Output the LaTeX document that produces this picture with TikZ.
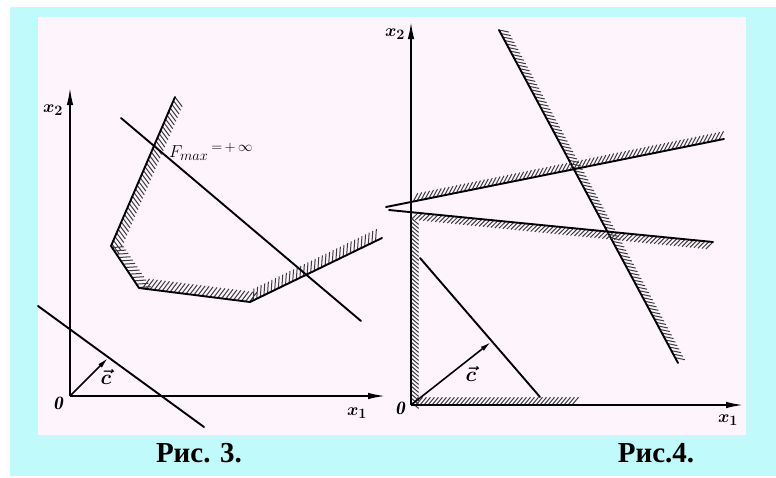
\documentclass[tikz,border=0pt]{standalone}
\usepackage{fontspec}
\newfontfamily\capfont{Liberation Serif}
\usetikzlibrary{arrows.meta,decorations.pathreplacing}
\definecolor{cyanbg}{RGB}{192,250,250}
\definecolor{paper}{RGB}{253,244,252}
\definecolor{hatchc}{RGB}{60,60,60}
\begin{document}
\begin{tikzpicture}[x=1pt,y=-1pt,
  bold/.style={line width=1.9pt,line cap=round},
  axis/.style={line width=1.6pt,-{Latex[length=17pt,width=6.5pt]}},
  vec/.style={line width=1.6pt,-{Latex[length=11pt,width=5pt]}},
  hatch/.style={decorate,decoration={border,segment length=4pt,amplitude=12pt,angle=60},line width=1pt,draw=hatchc},
  hatchs/.style={decorate,decoration={border,segment length=4pt,amplitude=10pt,angle=50},line width=1pt,draw=hatchc},
  lbl/.style={font=\boldmath\fontsize{19}{19}\selectfont,inner sep=0pt},
  caption/.style={font=\capfont\bfseries\fontsize{29}{29}\selectfont,inner sep=0pt}]
\useasboundingbox (0,0) rectangle (776,477);
\fill[white] (0,0) rectangle (776,477);
\fill[cyanbg] (10,7) rectangle (776,476);
\fill[paper] (38,17) rectangle (746,435);

% ---------- Fig. 3 ----------
\coordinate (O3) at (70,396);
\coordinate (Y3) at (70,88);
\coordinate (X3) at (385,396);
\draw[axis] (O3) -- (Y3);
\draw[axis] (O3) -- (X3);
\coordinate (P1) at (175,97);
\coordinate (P2) at (111,246);
\coordinate (P3) at (139,288);
\coordinate (P4) at (250,302);
\coordinate (P5) at (382,238);
\draw[hatch] (P1) -- (P2) -- (P3) -- (P4) -- (P5);
\draw[bold,line join=round] (P1) -- (P2) -- (P3) -- (P4) -- (P5);
\coordinate (F1) at (121,118);
\coordinate (F2) at (361,321);
\draw[bold] (F1) -- (F2);
\coordinate (L1) at (38,306);
\coordinate (L2) at (204,427);
\draw[bold] (L1) -- (L2);
\coordinate (C3) at (108,358);
\draw[vec] (O3) -- (C3);
\node[lbl] (x23) at (53,110) {$x_2$};
\node[lbl] (x13) at (357,413) {$x_1$};
\node[lbl] (o3) at (58,403) {$\mathit{0}$};
\node[lbl,font=\boldmath\fontsize{20}{20}\selectfont] (c3) at (106,377) {$\vec{c}$};
\node[lbl,anchor=west,font=\fontsize{19}{19}\selectfont] (fmax) at (169,152) {$F_{max}\,{}^{=\,+\,\infty}$};
\node[caption] (cap3) at (199,453) {Рис. 3.};

% ---------- Fig. 4 ----------
\coordinate (O4) at (411,405);
\coordinate (Y4) at (411,22);
\coordinate (X4) at (743,405);
\coordinate (H1) at (411,218);
\coordinate (H2) at (579,405);
\draw[hatchs] (H1) -- (O4) -- (H2);
\draw[axis] (O4) -- (Y4);
\draw[axis] (O4) -- (X4);
\coordinate (S1) at (499,30);
\coordinate (S2) at (678,363);
\draw[hatchs] (S1) -- (S2);
\draw[bold] (S1) -- (S2);
\coordinate (U1) at (386,207);
\coordinate (U0) at (413,202);
\coordinate (U2) at (724,139);
\draw[hatchs] (U0) -- (U2);
\draw[bold] (U1) -- (U2);
\coordinate (W1) at (389,210);
\coordinate (W0) at (413,212);
\coordinate (W2) at (713,242);
\draw[hatchs] (W2) -- (W0);
\draw[bold] (W1) -- (W2);
\coordinate (T1) at (420,258);
\coordinate (T2) at (540,397);
\draw[bold] (T1) -- (T2);
\coordinate (C4) at (491,342);
\draw[vec] (O4) -- (C4);
\node[lbl] (x24) at (395,34) {$x_2$};
\node[lbl] (x14) at (728,420) {$x_1$};
\node[lbl] (o4) at (400,408) {$\mathit{0}$};
\node[lbl,font=\boldmath\fontsize{20}{20}\selectfont] (c4) at (471,374) {$\vec{c}$};
\node[caption] (cap4) at (656,453) {Рис.4.};
\end{tikzpicture}
\end{document}
